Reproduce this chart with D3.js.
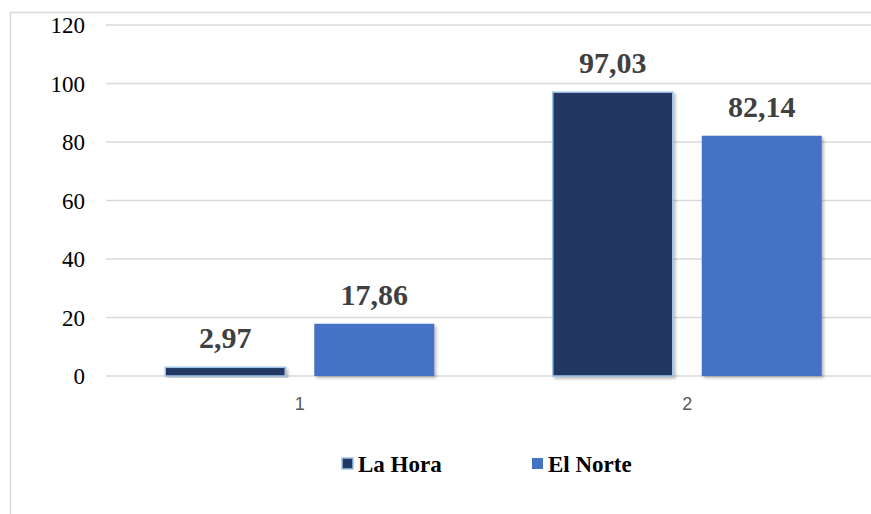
<!DOCTYPE html>
<html><head><meta charset="utf-8">
<script src="https://cdn.jsdelivr.net/npm/d3@7"></script>
<style>html,body{margin:0;padding:0;background:#fff;overflow:hidden}</style>
</head><body>
<svg id="chart" width="871" height="514"></svg>
<script>
const categories = ["1", "2"];
const seriesNames = ["La Hora", "El Norte"];
const laHora = [2.97, 97.03];
const elNorte = [17.86, 82.14];
const valueLabels = [["2,97", "97,03"], ["17,86", "82,14"]];
const yTicks = [0, 20, 40, 60, 80, 100, 120];
const colors = ["#203864", "#4472C4"];

const SERIF = '"Liberation Serif"';
const SANS = '"Liberation Sans"';
const svg = d3.select("#chart");
const W = 871, H = 514;
const defs = svg.append("defs");
const f = defs.append("filter").attr("id","sh").attr("x","-10%").attr("y","-10%").attr("width","130%").attr("height","130%");
f.append("feDropShadow").attr("dx",2).attr("dy",2).attr("stdDeviation",1.8).attr("flood-color","#000").attr("flood-opacity",0.28);

// outer border
svg.append("rect").attr("x",10.5).attr("y",12.5).attr("width",W).attr("height",H)
  .attr("fill","none").attr("stroke","#d9d9d9").attr("stroke-width",1.5);

const x0 = d3.scaleBand().domain(categories).range([106, 881]).paddingInner(0).paddingOuter(0);
const y = d3.scaleLinear().domain([0, 120]).range([376, 25]);
const barW = 120, gap = 29;

// gridlines
svg.append("g").selectAll("line").data(yTicks).join("line")
  .attr("x1",106).attr("x2",W).attr("y1",d=>y(d)).attr("y2",d=>y(d))
  .attr("stroke","#d9d9d9").attr("stroke-width",1.5);

// y axis labels
const yAxis = d3.axisLeft(y).tickValues(yTicks).tickSize(0).tickPadding(0).tickFormat(d3.format("d"));
const ya = svg.append("g").attr("transform","translate(85,0)").call(yAxis);
ya.select(".domain").remove();
ya.selectAll("text").style("font-family",SERIF)
  .style("font-size","23px").attr("fill","#000").attr("dy","0.34em");

// x axis labels
const xAxis = d3.axisBottom(x0).tickSize(0).tickPadding(0);
const xa = svg.append("g").attr("transform","translate(0,397)").call(xAxis);
xa.select(".domain").remove();
xa.selectAll("text").style("font-family",SANS)
  .style("font-size","18px").attr("fill","#595959").attr("dy","0.72em");

const data = [laHora, elNorte];
const offsets = [-(gap/2) - barW, gap/2];
data.forEach((vals, s) => {
  const g = svg.append("g");
  g.selectAll("rect").data(vals).join("rect")
    .attr("x",(d,i)=>x0(categories[i]) + x0.bandwidth()/2 + offsets[s])
    .attr("y",d=>y(d)).attr("width",barW).attr("height",d=>y(0)-y(d))
    .attr("fill",colors[s])
    .attr("stroke", s===0 ? "#9dc3e6" : "none").attr("stroke-width",1.5)
    .attr("filter","url(#sh)");
  g.selectAll("text").data(vals).join("text")
    .attr("x",(d,i)=>x0(categories[i]) + x0.bandwidth()/2 + offsets[s] + barW/2)
    .attr("y",d=>y(d) - 19)
    .attr("text-anchor","middle")
    .style("font-family",SERIF)
    .style("font-weight","bold").style("font-size","30px").attr("fill","#404040")
    .text((d,i)=>valueLabels[s][i]);
});

// legend
const legX = [342, 532];
const leg = svg.append("g");
seriesNames.forEach((n,i)=>{
  leg.append("rect").attr("x",legX[i]).attr("y",458).attr("width",11).attr("height",11)
    .attr("fill",colors[i]).attr("stroke", i===0 ? "#9dc3e6" : "none").attr("stroke-width",1.5);
  leg.append("text").attr("x",legX[i]+16).attr("y",472)
    .style("font-family",SERIF)
    .style("font-weight","bold").style("font-size","23px").attr("fill","#000").text(n);
});
</script>
</body></html>
